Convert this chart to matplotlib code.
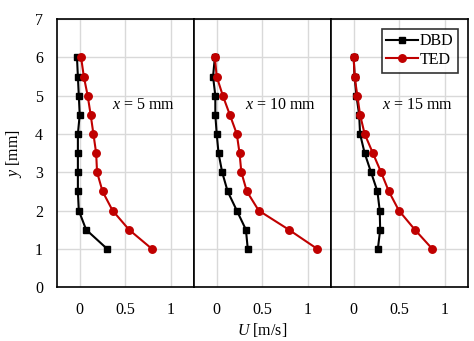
import matplotlib
matplotlib.use("Agg")
import matplotlib.pyplot as plt

plt.rcParams['font.family'] = ['Liberation Serif', 'DejaVu Serif']
plt.rcParams['mathtext.fontset'] = 'custom'
plt.rcParams['mathtext.it'] = 'Liberation Serif:italic'
plt.rcParams['mathtext.rm'] = 'Liberation Serif'

y = [6, 5.5, 5, 4.5, 4, 3.5, 3, 2.5, 2, 1.5, 1]

# x = 5 mm
dbd_5 = [-0.03, -0.02, -0.01, 0.0, -0.02, -0.02, -0.02, -0.02, -0.01, 0.07, 0.30]
ted_5 = [0.015, 0.045, 0.087, 0.12, 0.15, 0.18, 0.19, 0.25, 0.36, 0.54, 0.79]
# x = 10 mm
dbd_10 = [-0.02, -0.04, -0.015, -0.015, 0.0, 0.02, 0.06, 0.12, 0.22, 0.32, 0.34]
ted_10 = [-0.02, 0.0, 0.067, 0.144, 0.22, 0.25, 0.27, 0.33, 0.46, 0.79, 1.10]
# x = 15 mm
dbd_15 = [0.0, 0.01, 0.03, 0.06, 0.07, 0.12, 0.19, 0.26, 0.285, 0.29, 0.265]
ted_15 = [0.0, 0.01, 0.04, 0.07, 0.12, 0.21, 0.30, 0.385, 0.495, 0.67, 0.86]

labels = ["$x$ = 5 mm", "$x$ = 10 mm", "$x$ = 15 mm"]
dbd_all = [dbd_5, dbd_10, dbd_15]
ted_all = [ted_5, ted_10, ted_15]

fig = plt.figure(figsize=(4.74, 3.41), dpi=100)
left, right, bottom, top = 0.120, 0.987, 0.158, 0.944
w = (right - left) / 3

red = '#c00000'
for i in range(3):
	ax = fig.add_axes([left + i * w, bottom, w, top - bottom])
	ax.plot(dbd_all[i], y, color='black', marker='s', markersize=4.6, lw=1.5, label='DBD', zorder=3)
	ax.plot(ted_all[i], y, color=red, marker='o', markersize=5.4, lw=1.5, label='TED', zorder=4)
	ax.set_xlim(-0.25, 1.25)
	ax.set_ylim(0, 7)
	ax.set_xticks([0, 0.5, 1])
	ax.set_xticklabels(['0', '0.5', '1'])
	ax.set_yticks(range(8))
	ax.grid(True, color='#d9d9d9', lw=1)
	ax.set_axisbelow(True)
	for s in ax.spines.values():
		s.set_color('black')
		s.set_linewidth(1.2)
	ax.tick_params(axis='x', length=0, pad=11, labelsize=11.5)
	ax.tick_params(axis='y', length=0, pad=10, labelsize=11.5)
	if i > 0:
		ax.set_yticklabels([])
	else:
		ax.set_ylabel("$y$ [mm]", fontsize=11.5, labelpad=8)
	if i == 1:
		ax.set_xlabel("$U$ [m/s]", fontsize=11.5, labelpad=2)
	if i == 2:
		leg = ax.legend(loc='upper right', fontsize=11.5, frameon=True, fancybox=False,
			edgecolor='black', handlelength=2.0, handletextpad=0.1, borderpad=0.3,
			labelspacing=0.15, borderaxespad=0.6)
		leg.get_frame().set_linewidth(1.2)
	ax.text(0.7, 4.76, labels[i], fontsize=11.5, ha='center', va='center')

fig.savefig("out.png", dpi=100)
